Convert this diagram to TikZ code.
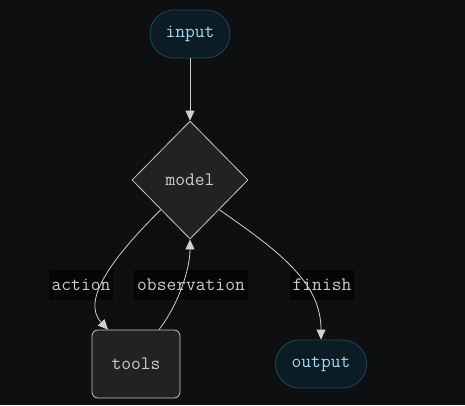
\documentclass[tikz,border=0pt]{standalone}
\usepackage{tikz}
\usetikzlibrary{positioning,arrows.meta,shapes.geometric,backgrounds}
\definecolor{bgdark}{HTML}{0D0F11}
\definecolor{lblbg}{HTML}{050505}
\definecolor{pillfill}{HTML}{0C1C24}
\definecolor{pilldraw}{HTML}{1B4A5E}
\definecolor{pilltext}{HTML}{A8D8F0}
\definecolor{boxfill}{HTML}{212322}
\definecolor{boxdraw}{HTML}{C8C8C8}
\definecolor{boxtext}{HTML}{CCCCCC}
\definecolor{edgecol}{HTML}{D0D0D0}

\begin{document}
\begin{tikzpicture}[
    x=1pt, y=-1pt,
    font=\fontsize{19}{22}\selectfont\ttfamily,
    terminal/.style={rectangle, rounded corners=24pt, draw=pilldraw, fill=pillfill,
                     text=pilltext, minimum width=80pt, minimum height=48pt, line width=0.8pt},
    decision/.style={diamond, draw=boxdraw, fill=boxfill, text=boxtext,
                     minimum width=116pt, minimum height=118pt, inner sep=0pt, line width=0.8pt},
    toolbox/.style={rectangle, rounded corners=6pt, draw=boxdraw, fill=boxfill,
                    text=boxtext, minimum width=88pt, minimum height=68pt, line width=0.8pt},
    edgelabel/.style={fill=lblbg, text=boxtext, inner sep=3pt, minimum height=30pt},
    arrow/.style={-{Triangle[length=10pt,width=9pt]}, edgecol, line width=0.8pt}
]
\useasboundingbox[fill=bgdark] (0,0) rectangle (465,405);

% Nodes
\node[terminal] (input) at (190,34) {input};
\node[decision] (model) at (190,180) {model};
\node[toolbox] (tools) at (136,364) {tools};
\node[terminal, minimum width=91pt] (output) at (321,364) {output};

% Edge labels
\node[edgelabel] (action) at (81,285) {action};
\node[edgelabel] (obs) at (191,285) {observation};
\node[edgelabel] (finish) at (322,285) {finish};

% Connectors
\draw[arrow] (input) -- (model);
\draw[arrow] (model.south west) .. controls (115,255) and (80,300) .. ([xshift=-28pt]tools.north);
\draw[arrow] ([xshift=23pt]tools.north) .. controls (178,305) and (190,270) .. (model.south);
\draw[arrow] (model.south east) .. controls (285,255) and (321,285) .. (output.north);

\end{tikzpicture}
\end{document}
